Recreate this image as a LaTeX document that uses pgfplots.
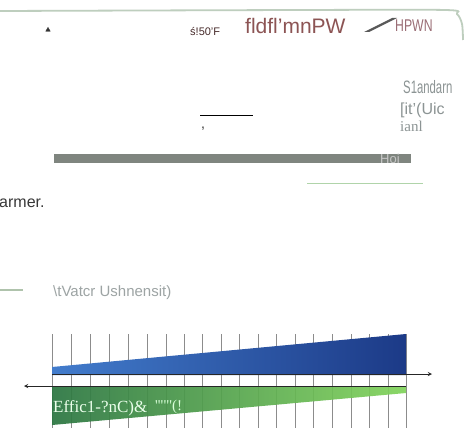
\documentclass[border=0pt]{standalone}
\usepackage{fontspec}
\setmainfont{Liberation Sans}
\newfontfamily\serif{Liberation Serif}
\usepackage{graphicx}
\usepackage{pgfplots}
\pgfplotsset{compat=1.18}

\definecolor{titlered}{RGB}{140,84,84}
\definecolor{pinkgray}{RGB}{155,110,118}
\definecolor{softgray}{RGB}{140,148,148}
\definecolor{bargray}{RGB}{127,133,127}
\definecolor{framegreen}{RGB}{190,206,190}
\definecolor{linegreen}{RGB}{176,212,170}
\definecolor{blueL}{RGB}{66,124,204}
\definecolor{blueR}{RGB}{28,58,135}
\definecolor{greenL}{RGB}{44,118,66}
\definecolor{greenM}{RGB}{72,168,70}
\definecolor{greenR}{RGB}{130,212,92}

\begin{document}
\begin{tikzpicture}
\begin{axis}[
    scale only axis,
    width=464bp, height=433bp,
    xmin=0, xmax=464, ymin=0, ymax=433,
    y dir=reverse,
    hide axis,
    unbounded coords=jump,
]

% background, keeps the page at full size
\addplot[fill=white, draw=none] coordinates {(0,0) (464,0) (464,433) (0,433)};

% frame line along the top
\addplot[draw=framegreen, line width=1.8bp, smooth] coordinates {
    (0,11) (300,10) (445,10) (457,14) (462,24) (463,40)
};

% header marks
\addplot[only marks, mark=triangle*, mark size=2.6bp, color=black!80] coordinates {(48,30)};
\addplot[fill=black!65, draw=none] coordinates {(364,32) (392,18) (397,18) (369,32)};

% short rules and the long grey bar
\addplot[draw=black, line width=0.8bp] coordinates {(200,115) (253,115)};
\addplot[fill=bargray, draw=none] coordinates {(54,154) (411,154) (411,163) (54,163)};
\addplot[draw=linegreen, line width=1.6bp] coordinates {(307,183.5) (423,183.5)};
\addplot[draw=linegreen!80!black!70, line width=1.2bp] coordinates {(0,290) (23,290)};

% tick lines behind the two wedges
\addplot[draw=black!45, line width=0.6bp] coordinates {
    (52,334) (52,428) (52,nan)
    (71,334) (71,428) (71,nan)
    (90,334) (90,428) (90,nan)
    (109,334) (109,428) (109,nan)
    (128,334) (128,428) (128,nan)
    (147,334) (147,428) (147,nan)
    (166,334) (166,428) (166,nan)
    (184,334) (184,428) (184,nan)
    (202,334) (202,428) (202,nan)
    (221,334) (221,428) (221,nan)
    (239,334) (239,428) (239,nan)
    (258,334) (258,428) (258,nan)
    (276,334) (276,428) (276,nan)
    (295,334) (295,428) (295,nan)
    (313,334) (313,428) (313,nan)
    (332,334) (332,428) (332,nan)
    (351,334) (351,428) (351,nan)
    (369,334) (369,428) (369,nan)
    (388,334) (388,428) (388,nan)
    (406,334) (406,428)
};

% upper wedge (blue)
\addplot[draw=none, left color=blueL, right color=blueR] coordinates {
    (52,367) (406,334) (406,375) (52,375)
};
% lower wedge (green)
\addplot[draw=none, left color=greenL, middle color=greenM, right color=greenR, opacity=0.93] coordinates {
    (52,386) (406,386) (406,393) (52,425)
};

% arrows
\addplot[draw=black!85, line width=0.9bp, -stealth] coordinates {(52,374) (432,374)};
\addplot[draw=black!85, line width=0.9bp, -stealth] coordinates {(406,386) (24,386)};

% texts
\node[anchor=base west, inner sep=0, text=black!50!titlered, font=\fontsize{11bp}{11bp}\selectfont]
    at (axis cs:190,36) {ś!50'F};
\node[anchor=base west, inner sep=0, text=titlered, font=\fontsize{21bp}{21bp}\selectfont]
    at (axis cs:245,33.5) {fldfl'mnPW};
\node[anchor=base west, inner sep=0, text=pinkgray, font=\fontsize{17bp}{17bp}\selectfont]
    at (axis cs:395,32) {\scalebox{0.72}[1]{HPWN}};
\node[anchor=base west, inner sep=0, text=softgray, font=\fontsize{18bp}{18bp}\selectfont]
    at (axis cs:403,93) {\scalebox{0.63}[1]{S1andarn}};
\node[anchor=base west, inner sep=0, text=softgray, font=\fontsize{16bp}{16bp}\selectfont]
    at (axis cs:400,114) {[it'(Uic};
\node[anchor=base west, inner sep=0, text=softgray, font=\serif\fontsize{15bp}{15bp}\selectfont]
    at (axis cs:400,131) {ianl};
\node[anchor=base west, inner sep=0, text=black!80, font=\fontsize{14bp}{14bp}\selectfont]
    at (axis cs:201,128) {,};
\node[anchor=base west, inner sep=0, text=black!22, font=\fontsize{13bp}{13bp}\selectfont]
    at (axis cs:380,163) {Hoi};
\node[anchor=base west, inner sep=0, text=black!78, font=\fontsize{16bp}{16bp}\selectfont]
    at (axis cs:-1,207) {armer.};
\node[anchor=base west, inner sep=0, text=softgray!85, font=\fontsize{15bp}{15bp}\selectfont]
    at (axis cs:53,296) {\textbackslash tVatcr Ushnensit)};
\node[anchor=base west, inner sep=0, text=green!8!white, font=\serif\fontsize{17bp}{17bp}\selectfont]
    at (axis cs:53,412) {Effic1-?nC)\&};
\node[anchor=base west, inner sep=0, text=white!85!green, font=\serif\fontsize{15bp}{15bp}\selectfont]
    at (axis cs:155,410) {'''"'(!};

\end{axis}
\end{tikzpicture}
\end{document}
